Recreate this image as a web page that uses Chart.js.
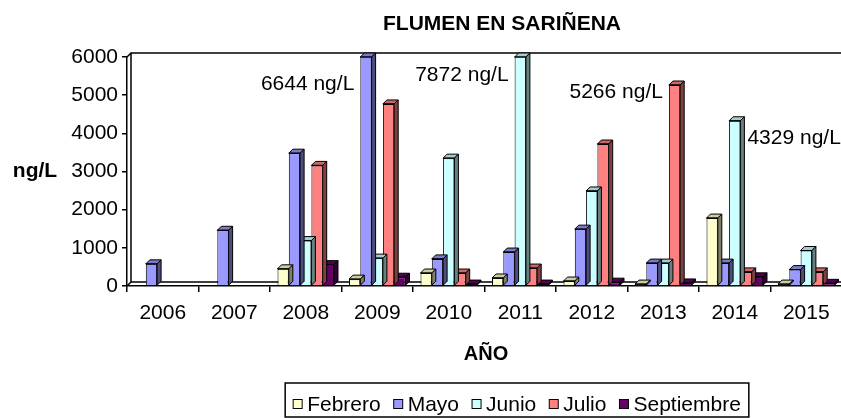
<!DOCTYPE html>
<html><head><meta charset="utf-8">
<script src="https://cdn.jsdelivr.net/npm/chart.js@4"></script>
<style>html,body{margin:0;padding:0;overflow:hidden;background:#fff;}#wrap{width:860px;height:418px;}</style>
</head><body><div id="wrap"><canvas id="c" width="860" height="418"></canvas></div>
<script>
const years = ['2006','2007','2008','2009','2010','2011','2012','2013','2014','2015'];
const febrero    = [null, null, 450, 180, 340, 210, 130, 50, 1780, 50];
const mayo       = [580, 1460, 3480, 6644, 710, 890, 1490, 600, 600, 430];
const junio      = [null, null, 1190, 730, 3350, 7872, 2490, 600, 4329, 930];
const julio      = [null, null, 3160, 4770, 340, 470, 3720, 5266, 370, 370];
const septiembre = [null, null, 560, 230, 50, 50, 100, 80, 240, 70];
const seriesNames = ['Febrero','Mayo','Junio','Julio','Septiembre'];
const yTicks = [0, 1000, 2000, 3000, 4000, 5000, 6000];
const titleText = 'FLUMEN EN SARIÑENA';
const xTitle = 'AÑO';
const yTitle = 'ng/L';
// annotations: text, series index, year, level
const annTexts  = ['6644 ng/L', '7872 ng/L', '5266 ng/L', '4329 ng/L'];
const annSeries = [1, 2, 3, 2];
const annYears  = ['2009', '2011', '2013', '2014'];
const annLevels = [5300, 5530, 5070, 3870];
const annSide   = ['left', 'left', 'left', 'right'];

const colors = ['#FFFFCC', '#9999FF', '#CCFFFF', '#FF8080', '#660066'];
const FONT = "'Liberation Sans', Arial, sans-serif";
const DEPTH = 4;

function shade(hex, f) {
  const n = parseInt(hex.slice(1), 16);
  const r = Math.round(((n >> 16) & 255) * f), g = Math.round(((n >> 8) & 255) * f), b = Math.round((n & 255) * f);
  return 'rgb(' + r + ',' + g + ',' + b + ')';
}

const threeD = {
  id: 'threeD',
  beforeDatasetsDraw(chart) {
    const { ctx, chartArea: a } = chart;
    ctx.save();
    ctx.strokeStyle = '#000';
    ctx.lineWidth = 1.5;
    ctx.beginPath();
    ctx.moveTo(a.left + DEPTH, a.bottom - DEPTH);
    ctx.lineTo(a.left + DEPTH, a.top - DEPTH);
    ctx.lineTo(chart.width, a.top - DEPTH);
    ctx.moveTo(a.left + DEPTH, a.bottom - DEPTH);
    ctx.lineTo(chart.width, a.bottom - DEPTH);
    ctx.moveTo(a.left, a.top);
    ctx.lineTo(a.left + DEPTH, a.top - DEPTH);
    ctx.moveTo(a.left, a.bottom);
    ctx.lineTo(a.left + DEPTH, a.bottom - DEPTH);
    ctx.stroke();
    ctx.restore();
  },
  afterDatasetDraw(chart, args) {
    const { ctx, chartArea: a } = chart;
    const ds = chart.data.datasets[args.index];
    const col = colors[args.index];
    ctx.save();
    ctx.strokeStyle = '#000';
    ctx.lineWidth = 1;
    args.meta.data.forEach((el, i) => {
      if (ds.data[i] == null) return;
      const p = el.getProps(['x', 'y', 'base', 'width'], true);
      const l = p.x - p.width / 2, r = p.x + p.width / 2;
      const t = Math.max(Math.min(p.y, p.base), a.top);
      const b = p.base;
      ctx.beginPath();
      ctx.moveTo(l, t); ctx.lineTo(l + DEPTH, t - DEPTH); ctx.lineTo(r + DEPTH, t - DEPTH); ctx.lineTo(r, t); ctx.closePath();
      ctx.fillStyle = shade(col, 0.8); ctx.fill(); ctx.stroke();
      ctx.beginPath();
      ctx.moveTo(r, t); ctx.lineTo(r + DEPTH, t - DEPTH); ctx.lineTo(r + DEPTH, b - DEPTH); ctx.lineTo(r, b); ctx.closePath();
      ctx.fillStyle = shade(col, 0.5); ctx.fill(); ctx.stroke();
      ctx.beginPath(); ctx.moveTo(l, t); ctx.lineTo(r, t); ctx.stroke();
    });
    ctx.restore();
  },
  afterDraw(chart) {
    const { ctx } = chart;
    const ys = chart.scales.y;
    ctx.save();
    ctx.fillStyle = '#000';
    ctx.textBaseline = 'middle';
    ctx.font = 'bold 21px ' + FONT;
    ctx.textAlign = 'center';
    ctx.fillText(titleText, 502, 24);
    ctx.font = 'bold 20px ' + FONT;
    ctx.fillText(xTitle, 486, 354);
    ctx.font = 'bold 21px ' + FONT;
    ctx.fillText(yTitle, 35, 171);
    ctx.font = '21px ' + FONT;
    annTexts.forEach((txt, k) => {
      const meta = chart.getDatasetMeta(annSeries[k]);
      const el = meta.data[years.indexOf(annYears[k])];
      const p = el.getProps(['x', 'width'], true);
      const y = ys.getPixelForValue(annLevels[k]);
      if (annSide[k] === 'left') {
        ctx.textAlign = 'right';
        ctx.fillText(txt, p.x - p.width / 2 - 6, y);
      } else {
        ctx.textAlign = 'left';
        ctx.fillText(txt, p.x + p.width / 2 + DEPTH + 3, y);
      }
    });
    ctx.font = '21px ' + FONT;
    const mk = 9, gapMT = 5, gapItem = 13, pad = 8;
    const widths = seriesNames.map(n => ctx.measureText(n).width);
    const total = pad * 2 + widths.reduce((s, w) => s + w + mk + gapMT, 0) + gapItem * (seriesNames.length - 1);
    const cx = 517, top = 383, bottom = 417;
    let x = cx - total / 2;
    ctx.lineWidth = 1.5;
    ctx.strokeStyle = '#000';
    ctx.strokeRect(x, top, total, bottom - top);
    x += pad;
    const ty = 404;
    ctx.textAlign = 'left';
    seriesNames.forEach((n, k) => {
      ctx.fillStyle = colors[k];
      ctx.fillRect(x, ty - mk / 2, mk, mk);
      ctx.lineWidth = 1;
      ctx.strokeRect(x, ty - mk / 2, mk, mk);
      ctx.fillStyle = '#000';
      ctx.fillText(n, x + mk + gapMT, ty + 1);
      x += mk + gapMT + widths[k] + gapItem;
    });
    ctx.restore();
  }
};

const seriesData = [febrero, mayo, junio, julio, septiembre];
new Chart(document.getElementById('c'), {
  type: 'bar',
  data: {
    labels: years,
    datasets: seriesNames.map((n, k) => ({
      label: n,
      data: seriesData[k],
      backgroundColor: colors[k],
      borderColor: '#000',
      borderWidth: 1,
      borderSkipped: 'bottom',
      categoryPercentage: 0.79,
      barPercentage: 1.0,
      clip: 0
    }))
  },
  options: {
    responsive: false,
    animation: false,
    layout: { padding: { top: 57, right: 18, left: 0, bottom: 0 } },
    plugins: { legend: { display: false }, title: { display: false }, tooltip: { enabled: false } },
    scales: {
      x: {
        grid: { display: true, drawOnChartArea: false, drawTicks: true, tickLength: 6, color: '#000', lineWidth: 1.5, offset: true },
        border: { display: true, color: '#000', width: 1.5 },
        ticks: { color: '#000', font: { family: FONT, size: 21 }, padding: 9, maxRotation: 0, autoSkip: false },
        afterFit(s) { s.height = 132; }
      },
      y: {
        min: 0, max: 6000,
        afterBuildTicks(s) { s.ticks = yTicks.map(v => ({ value: v })); },
        grid: { display: true, drawOnChartArea: false, drawTicks: true, tickLength: 5, color: '#000', lineWidth: 1.5 },
        border: { display: true, color: '#000', width: 1.5 },
        ticks: { color: '#000', font: { family: FONT, size: 21 }, padding: 4, callback: v => String(v) },
        afterFit(s) { s.width = 127; }
      }
    }
  },
  plugins: [threeD]
});
</script>
</body></html>
